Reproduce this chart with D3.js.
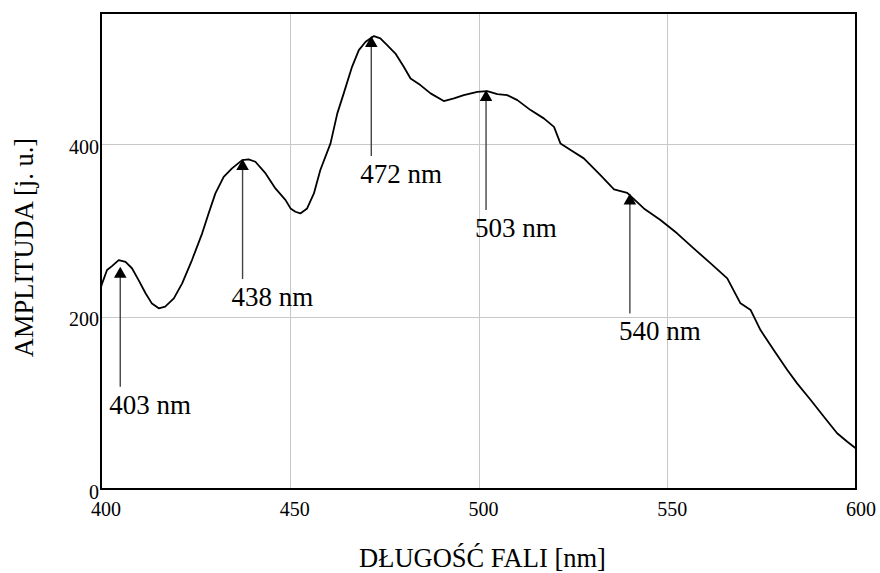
<!DOCTYPE html>
<html>
<head>
<meta charset="utf-8">
<script src="https://cdn.jsdelivr.net/npm/d3@7"></script>
<style>
  html, body { margin: 0; padding: 0; background: #fff; }
  svg { display: block; }
</style>
</head>
<body>
<svg id="chart" width="880" height="573"></svg>
<script>
// ---- data ----
const wavelength = [400, 400.3, 401.6, 402.9, 404.7, 406.5, 408.2, 410, 411.8, 413.5, 415.3, 417, 419.3, 421.5, 424.1, 426.8, 428.5, 430.3, 432.5, 434.7, 437.4, 439.1, 440.9, 443.6, 446.2, 448.9, 450.2, 451.5, 452.8, 454.6, 456.4, 458.1, 460.8, 462.6, 464.3, 466.5, 468.3, 470.1, 472.3, 474, 475.8, 478, 480.2, 482, 484.6, 487.3, 490.8, 493.5, 496.1, 499.7, 502.3, 505, 507.6, 510.3, 513.8, 517.3, 520, 521.7, 524.4, 527.9, 532.3, 535.9, 539.4, 543.8, 548.2, 552.6, 557, 561.5, 565.9, 569.4, 572.1, 574.7, 578.2, 581.8, 584.4, 588, 591.5, 595, 597.7, 600];
const amplitude = [234, 238.5, 254, 258.5, 265.5, 263.5, 256, 242, 227, 215, 209.5, 211.5, 221, 238.5, 265.5, 296.5, 319.6, 342.8, 362, 371.8, 381.4, 382.2, 379.5, 366, 348.6, 335, 325.4, 321.5, 319.6, 325.4, 342.8, 369.9, 400.8, 435.6, 458.8, 489.6, 509, 518.6, 525.2, 522.5, 514.8, 505, 489.6, 476, 468.4, 458.8, 449.9, 453, 456.8, 460.6, 461.4, 458, 456.8, 451, 439.4, 429.8, 420, 400.8, 393, 383.4, 364, 347.5, 343.5, 325.4, 311.9, 296.5, 279, 261.7, 244.3, 215.3, 207.5, 184.3, 161.2, 138, 122.5, 103.2, 83.8, 64.6, 54.8, 47];

const xTicks = [400, 450, 500, 550, 600];
const yTicks = [0, 200, 400];

const peakLabels = ["403 nm", "438 nm", "472 nm", "503 nm", "540 nm"];
const peakX = [405.1, 437.5, 471.6, 502, 540.1];
const peakY = [257.7, 382.6, 525.2, 462.6, 342.8];

const xTitle = "DŁUGOŚĆ FALI [nm]";
const yTitle = "AMPLITUDA [j. u.]";

// ---- layout ----
const FONT = "'Liberation Serif', 'DejaVu Serif', 'Times New Roman', Times, serif";
const svg = d3.select("#chart").attr("font-family", FONT);
svg.append("rect").attr("width", 880).attr("height", 573).attr("fill", "#fff");
const mLeft = 101, mRight = 856, mTop = 13, mBottom = 489;
const x = d3.scaleLinear().domain([400, 600]).range([mLeft, mRight]);
const y = d3.scaleLinear().domain([0, 552]).range([mBottom, mTop]);

// grid
const grid = svg.append("g").attr("stroke", "#c8c8c8").attr("stroke-width", 1);
grid.selectAll("line.vx").data(xTicks.filter(d => d > 400 && d < 600)).enter()
  .append("line").attr("x1", d => Math.round(x(d)) + 0.5).attr("x2", d => Math.round(x(d)) + 0.5)
  .attr("y1", mTop).attr("y2", mBottom);
grid.selectAll("line.hy").data(yTicks.filter(d => d > 0)).enter()
  .append("line").attr("y1", d => Math.round(y(d)) + 0.5).attr("y2", d => Math.round(y(d)) + 0.5)
  .attr("x1", mLeft).attr("x2", mRight);

// curve
const line = d3.line().x((d, i) => x(wavelength[i])).y(d => y(d));
svg.append("path").datum(amplitude).attr("d", line)
  .attr("fill", "none").attr("stroke", "#000").attr("stroke-width", 1.8)
  .attr("stroke-linejoin", "round");

// frame
svg.append("rect").attr("x", mLeft).attr("y", mTop).attr("width", mRight - mLeft).attr("height", mBottom - mTop)
  .attr("fill", "none").attr("stroke", "#000").attr("stroke-width", 2);

// x axis tick labels
svg.append("g").selectAll("text").data(xTicks).enter().append("text")
  .attr("font-family", FONT)
  .attr("x", d => x(d) + 5).attr("y", 516).attr("text-anchor", "middle")
  .attr("font-size", 20).text(d => d);

// y axis tick labels
svg.append("g").selectAll("text").data(yTicks).enter().append("text")
  .attr("font-family", FONT)
  .attr("x", 99).attr("y", d => y(d) + 9.5).attr("text-anchor", "end")
  .attr("font-size", 20).text(d => d);

// arrows
const arrowLen = 120;
const ag = svg.append("g");
peakX.forEach((px, i) => {
  const ax = x(px), ay = y(peakY[i]);
  ag.append("line").attr("x1", ax).attr("x2", ax).attr("y1", ay + 8).attr("y2", ay + arrowLen)
    .attr("stroke", "#444").attr("stroke-width", 1.4);
  ag.append("path").attr("d", `M${ax},${ay} L${ax - 6.3},${ay + 11} L${ax + 6.3},${ay + 11} Z`)
    .attr("fill", "#000");
  ag.append("text").attr("font-family", FONT).attr("x", ax - 11).attr("y", ay + arrowLen + 27)
    .attr("font-size", 27).text(peakLabels[i]);
});

// axis titles
svg.append("text").attr("font-family", FONT).attr("x", 482.5).attr("y", 567).attr("text-anchor", "middle")
  .attr("font-size", 26.5).text(xTitle);
svg.append("text").attr("font-family", FONT).attr("transform", "translate(33,247.5) rotate(-90)").attr("text-anchor", "middle")
  .attr("font-size", 26.5).text(yTitle);
</script>
</body>
</html>
